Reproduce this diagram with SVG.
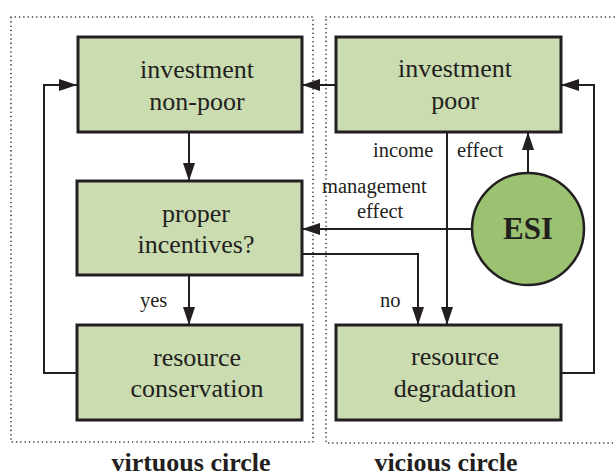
<svg xmlns="http://www.w3.org/2000/svg" width="615" height="476" viewBox="0 0 615 476" font-family="'Liberation Serif', 'Times New Roman', serif">
  <style>
    .frame { fill: none; stroke: #231f20; stroke-width: 1.6; stroke-dasharray: 0 4.3; stroke-linecap: round; }
    .box { fill: #cadcb0; stroke: #231f20; stroke-width: 3; }
    .esi { fill: #9bc270; stroke: #231f20; stroke-width: 2.5; }
    .wire { fill: none; stroke: #231f20; stroke-width: 2; marker-end: url(#head); }
    .t { fill: #231f20; }
    .main { font-size: 26px; text-anchor: middle; }
    .lab { font-size: 20.5px; }
    .title { font-size: 26px; font-weight: bold; text-anchor: middle; }
  </style>
  <defs>
    <marker id="head" markerUnits="userSpaceOnUse" markerWidth="18" markerHeight="12" refX="18" refY="6" orient="auto">
      <path d="M0,0 L18,6 L0,12 z" fill="#231f20"/>
    </marker>
  </defs>

  <!-- dotted regions -->
  <rect class="frame" x="11" y="17" width="302" height="425"/>
  <rect class="frame" x="326" y="17" width="300" height="426"/>

  <!-- connectors -->
  <g id="connectors">
    <path class="wire" d="M336,85 H302"/>
    <path class="wire" d="M77,373 H44 V85 H77"/>
    <path class="wire" d="M189,132 V181"/>
    <path class="wire" d="M189,275 V325"/>
    <path class="wire" d="M472,229 H302"/>
    <path class="wire" d="M528,173 V132"/>
    <path class="wire" d="M447,132 V325"/>
    <path class="wire" d="M302,254 H418 V325"/>
    <path class="wire" d="M561,373 H594 V85 H561"/>
    <text class="t lab" x="140" y="307">yes</text>
    <text class="t lab" x="380" y="307">no</text>
    <text class="t lab" x="373" y="157">income</text>
    <text class="t lab" x="457" y="157">effect</text>
    <text class="t lab" x="322" y="193">management</text>
    <text class="t lab" x="357" y="218">effect</text>
  </g>

  <g id="investment-non-poor">
    <rect class="box" x="78" y="37" width="224" height="95"/>
    <text class="t main" x="197" y="78">investment</text>
    <text class="t main" x="197" y="110">non-poor</text>
  </g>
  <g id="proper-incentives">
    <rect class="box" x="77" y="181" width="225" height="94"/>
    <text class="t main" x="196" y="222">proper</text>
    <text class="t main" x="196" y="253">incentives?</text>
  </g>
  <g id="resource-conservation">
    <rect class="box" x="77" y="325" width="225" height="95"/>
    <text class="t main" x="197" y="366">resource</text>
    <text class="t main" x="197" y="397">conservation</text>
  </g>
  <g id="investment-poor">
    <rect class="box" x="336" y="37" width="225" height="95"/>
    <text class="t main" x="455" y="77">investment</text>
    <text class="t main" x="455" y="109">poor</text>
  </g>
  <g id="resource-degradation">
    <rect class="box" x="336" y="325" width="225" height="95"/>
    <text class="t main" x="455" y="365">resource</text>
    <text class="t main" x="455" y="397">degradation</text>
  </g>
  <g id="esi">
    <circle class="esi" cx="528" cy="229" r="56"/>
    <text class="t" x="528" y="239" font-size="31" font-weight="bold" text-anchor="middle">ESI</text>
  </g>

  <text class="t title" x="191" y="471">virtuous circle</text>
  <text class="t title" x="446" y="471">vicious circle</text>
</svg>
